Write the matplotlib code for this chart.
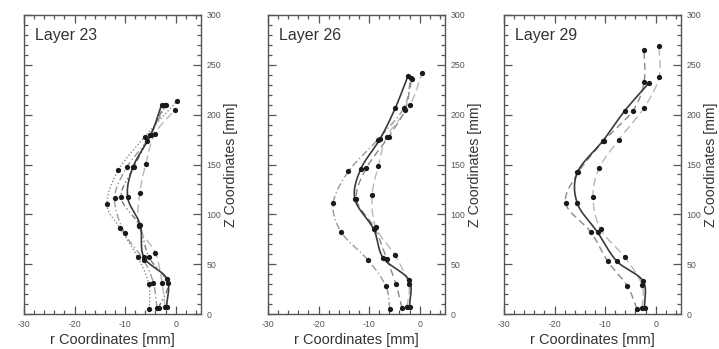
import numpy as np
import matplotlib
matplotlib.use("Agg")
import matplotlib.pyplot as plt
from matplotlib.ticker import MultipleLocator

plt.rcParams['font.family'] = ['Liberation Sans', 'DejaVu Sans']

# ---------------- data ----------------
layer_titles = ["Layer 23", "Layer 26", "Layer 29"]

# Layer 23
l23_s1_z = [7, 35, 57, 89, 117, 147, 180, 210]
l23_s1_r = [-1.8, -1.7, -6.3, -7.0, -9.5, -8.5, -4.9, -2.8]
l23_s2_z = [7, 31, 61, 88, 121, 151, 181, 205]
l23_s2_r = [-2.1, -2.7, -4.0, -7.3, -7.1, -5.9, -4.1, -0.1]
l23_s3_z = [5, 30, 57, 86, 110, 144, 178, 214]
l23_s3_r = [-5.2, -5.3, -7.5, -11.0, -13.6, -11.4, -6.1, 0.3]
l23_s4_z = [6, 31, 54, 81, 116, 147, 174, 210]
l23_s4_r = [-3.7, -4.4, -6.3, -10.1, -12.1, -9.7, -5.7, -1.9]
l23_s5_z = [6, 31, 57, 89, 117, 147, 180, 210]
l23_s5_r = [-3.4, -1.6, -5.3, -7.2, -10.8, -8.3, -5.0, -2.2]

# Layer 26
l26_s1_z = [7, 34, 56, 85, 115, 145, 176, 207, 239]
l26_s1_r = [-2.0, -2.1, -7.2, -9.1, -12.8, -11.7, -7.8, -4.8, -2.3]
l26_s2_z = [5, 28, 54, 82, 111, 143, 175, 207, 237]
l26_s2_r = [-5.9, -6.7, -10.2, -15.5, -17.1, -14.1, -8.3, -3.1, -1.8]
l26_s3_z = [7, 30, 59, 87, 119, 148, 178, 210, 242]
l26_s3_r = [-2.5, -2.2, -4.9, -8.7, -9.4, -8.2, -6.5, -1.9, 0.5]
l26_s4_z = [6, 30, 55, 86, 115, 146, 178, 205, 236]
l26_s4_r = [-3.5, -4.7, -6.5, -8.9, -12.5, -10.6, -6.1, -2.9, -1.6]

# Layer 29
l29_s1_z = [6, 33, 53, 82, 111, 142, 174, 204, 232]
l29_s1_r = [-2.2, -2.5, -7.7, -11.5, -15.5, -15.5, -10.4, -6.1, -1.3]
l29_s2_z = [5, 28, 53, 82, 111, 142, 174, 204, 233, 265]
l29_s2_r = [-3.7, -5.6, -9.5, -12.8, -17.8, -15.3, -10.2, -4.5, -2.3, -2.3]
l29_s3_z = [6, 29, 57, 85, 117, 146, 175, 207, 238, 269]
l29_s3_r = [-2.7, -2.7, -6.1, -10.9, -12.4, -11.2, -7.3, -2.3, 0.7, 0.6]

styles = {
    "solid": dict(color="#3a3a3a", lw=1.2, ls="-"),
    "dash_light": dict(color="#b8b8b8", lw=1.0, ls=(0, (6, 3))),
    "dash_mid": dict(color="#8a8a8a", lw=1.0, ls=(0, (5, 3))),
    "dot": dict(color="#8a8a8a", lw=1.0, ls=(0, (1, 1.5))),
    "dashdot": dict(color="#9a9a9a", lw=1.0, ls=(0, (5, 2, 1, 2))),
    "dashdotdot": dict(color="#7a7a7a", lw=1.0, ls=(0, (4, 2, 1, 2, 1, 2))),
}

panels = [
    [(l23_s2_r, l23_s2_z, "dash_light"), (l23_s3_r, l23_s3_z, "dot"),
     (l23_s4_r, l23_s4_z, "dashdot"), (l23_s5_r, l23_s5_z, "dashdotdot"),
     (l23_s1_r, l23_s1_z, "solid")],
    [(l26_s3_r, l26_s3_z, "dash_light"), (l26_s2_r, l26_s2_z, "dashdot"),
     (l26_s4_r, l26_s4_z, "dash_mid"), (l26_s1_r, l26_s1_z, "solid")],
    [(l29_s3_r, l29_s3_z, "dash_light"), (l29_s2_r, l29_s2_z, "dash_mid"),
     (l29_s1_r, l29_s1_z, "solid")],
]


def catmull_rom(x, y, n=20):
    p = np.column_stack([x, y]).astype(float)
    p = np.vstack([2 * p[0] - p[1], p, 2 * p[-1] - p[-2]])
    out = []
    t = np.linspace(0, 1, n, endpoint=False)
    for i in range(1, len(p) - 2):
        p0, p1, p2, p3 = p[i - 1], p[i], p[i + 1], p[i + 2]
        tt = t[:, None]
        seg = 0.5 * ((2 * p1) + (-p0 + p2) * tt + (2 * p0 - 5 * p1 + 4 * p2 - p3) * tt ** 2
                     + (-p0 + 3 * p1 - 3 * p2 + p3) * tt ** 3)
        out.append(seg)
    out.append(p[-2][None, :])
    out = np.vstack(out)
    return out[:, 0], out[:, 1]


fig = plt.figure(figsize=(7.19, 3.49), dpi=100)
lefts = [24 / 719, 268 / 719, 504 / 719]
for k, left in enumerate(lefts):
    ax = fig.add_axes([left, 35 / 349, 177 / 719, 299 / 349])
    for r, z, st in panels[k]:
        sx, sy = catmull_rom(r, z)
        ax.plot(sx, sy, **styles[st], zorder=2)
        ax.plot(r, z, "o", color="#1a1a1a", ms=3.8, mec="none", zorder=3)
    ax.set_xlim(-30, 5)
    ax.set_ylim(0, 300)
    ax.xaxis.set_major_locator(MultipleLocator(10))
    ax.xaxis.set_minor_locator(MultipleLocator(2))
    ax.yaxis.set_major_locator(MultipleLocator(50))
    ax.yaxis.set_minor_locator(MultipleLocator(10))
    ax.tick_params(which="both", direction="in", top=True, bottom=True,
                   left=True, right=True, labelleft=False, labelright=True,
                   colors="#555555", labelsize=6.3, width=0.9)
    ax.tick_params(which="major", length=6, pad=4)
    ax.tick_params(which="minor", length=3)
    for sp in ax.spines.values():
        sp.set_color("#555555")
        sp.set_linewidth(1.0)
    ax.set_xticks([-30, -20, -10, 0])
    ax.set_xticklabels(["-30", "-20", "-10", "0"])
    ax.yaxis.set_label_position("right")
    ax.set_ylabel("Z Coordinates [mm]", fontsize=10.2, color="#333333", labelpad=2)
    ax.set_xlabel("r Coordinates [mm]", fontsize=10.5, color="#333333", labelpad=3)
    ax.text(0.06, 0.955, layer_titles[k], transform=ax.transAxes, fontsize=11.5,
            color="#333333", va="top", ha="left")

fig.savefig("out.png", dpi=100)
